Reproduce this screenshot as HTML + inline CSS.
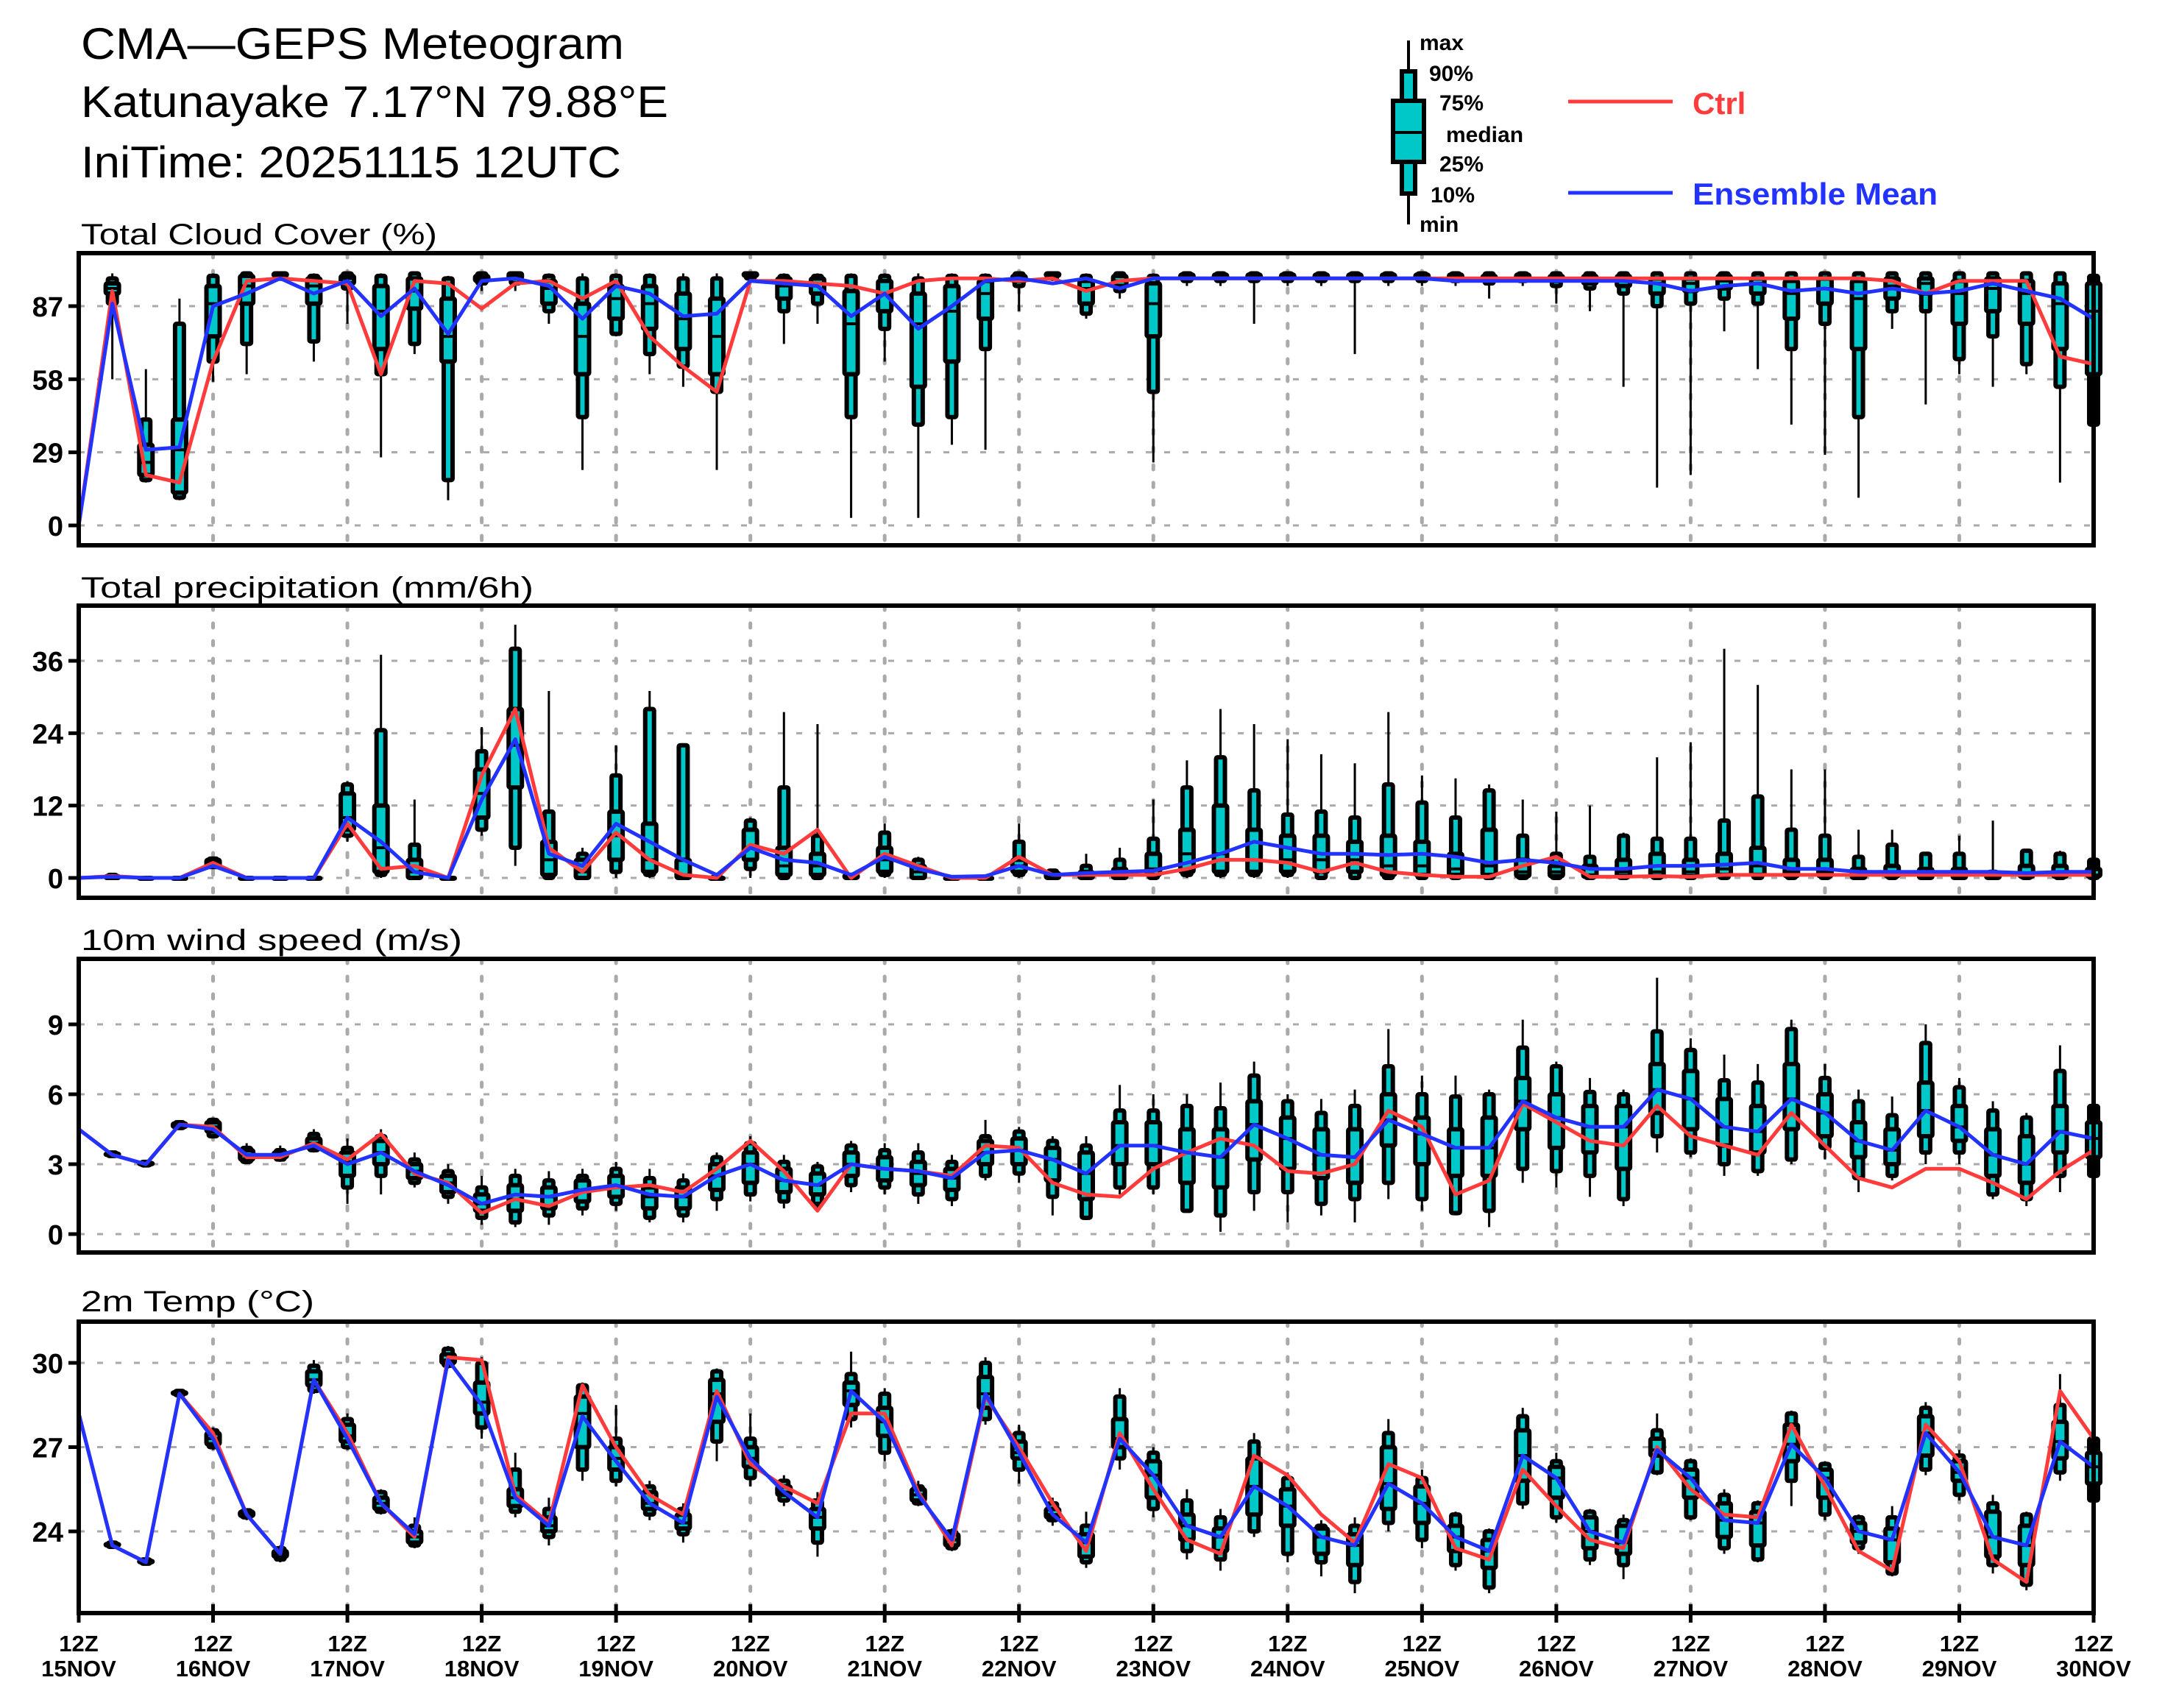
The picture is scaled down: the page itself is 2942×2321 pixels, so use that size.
<!DOCTYPE html>
<html><head><meta charset="utf-8">
<style>
html,body{margin:0;padding:0;background:#fff;}
svg{display:block;}
text{font-family:"Liberation Sans","DejaVu Sans",sans-serif;}
</style></head>
<body>
<svg id="chart" xmlns="http://www.w3.org/2000/svg" width="2942" height="2321" viewBox="0 0 2942 2321">
<rect x="0" y="0" width="2942" height="2321" fill="#fff"/>
<text x="110" y="80" font-size="60" fill="#000" textLength="738" lengthAdjust="spacingAndGlyphs">CMA—GEPS Meteogram</text>
<text x="110" y="159" font-size="60" fill="#000" textLength="798" lengthAdjust="spacingAndGlyphs">Katunayake 7.17°N 79.88°E</text>
<text x="110" y="241" font-size="60" fill="#000" textLength="734" lengthAdjust="spacingAndGlyphs">IniTime: 20251115 12UTC</text>
<g id="legend"></g>
<g id="panels"></g>
</svg>
<script>
// ---- data (step = 6h from 15NOV 12Z) ----
const days = ["15NOV","16NOV","17NOV","18NOV","19NOV","20NOV","21NOV","22NOV","23NOV","24NOV","25NOV","26NOV","27NOV","28NOV","29NOV","30NOV"];
const cloudTicks = [0,29,58,87];
const precipTicks = [0,12,24,36];
const windTicks = [0,3,6,9];
const tempTicks = [24,27,30];

const cloudCtrl = [0,93,20,17,65,97,98,97,96,60,97,96,86,96,97,90,97,75,63,53,97,97,96,95,92,97,98,98,97,98,93,97,98,98,98,98,98,98,98,98,98,98,98,98,98,98,98,98,98,98,98,98,98,98,97,92,97,97,97,67,64];
const cloudMean = [0,88,30,31,87,92,98,92,97,83,94,76,97,98,95,82,95,92,83,84,97,96,95,83,92,78,87,97,98,96,98,94,98,98,98,98,98,98,98,98,98,97,97,97,97,97,97,96,93,95,96,93,94,92,94,92,93,96,93,90,82];
const cloudBox = [null,
[58,88,92,94,96,98,100],[17,18,20,25,32,42,62],[10,11,13,30,42,80,90],[57,65,75,88,95,99,100],[60,72,88,95,99,100,100],
[97,98,99,99,100,100,100],[65,73,88,95,98,99,100],[80,94,96,98,99,100,100],[27,60,70,85,95,99,100],[68,72,86,93,98,100,100],
[10,18,65,75,90,98,99],[93,96,97,98,99,100,100],[93,96,98,99,100,100,100],[80,85,88,94,97,99,100],[22,43,60,75,88,98,100],
[75,76,82,90,95,99,100],[60,68,78,88,95,99,100],[55,63,70,82,92,98,100],[22,53,60,75,90,98,100],[97,98,99,99,100,100,100],
[72,85,90,95,98,99,100],[80,88,92,96,98,99,100],[3,43,60,80,93,99,100],[65,78,85,92,97,99,100],[3,40,55,80,92,98,100],
[32,43,65,85,95,99,100],[30,70,82,92,97,99,100],[85,95,97,98,99,100,100],[97,98,99,99,100,100,100],[82,84,88,94,97,99,100],
[90,93,95,97,99,100,100],[25,53,75,88,96,99,100],[95,97,98,99,99.5,100,100],[95,97,98,99,99.5,100,100],[80,97,98,99,99.5,100,100],
[95,97,98,99,99.5,100,100],[95,97,98,99,99.5,100,100],[68,97,98,99,99.5,100,100],[95,97,98,99,99.5,100,100],[95,97,98,99,99.5,100,100],
[95,97,98,99,99.5,100,100],[90,96,97,98,99,100,100],[95,97,98,99,99.5,100,100],[88,95,97,98,99,100,100],[85,94,96,98,99,100,100],
[55,92,95,97,99,100,100],[15,87,92,96,98,100,100],[20,88,93,96,98,100,100],[77,90,94,97,99,100,100],[62,88,92,96,98,100,100],
[40,70,82,92,97,100,100],[28,80,88,94,98,100,100],[11,43,70,90,97,100,100],[78,85,90,95,98,100,100],[48,85,92,96,98,100,100],
[60,66,80,92,97,100,100],[55,75,85,94,98,100,100],[60,64,80,92,97,100,100],[17,55,70,88,96,100,100],[38,40,60,85,96,99,100]];

const precipCtrl = [0,0.3,0,0,2.5,0,0,0,9,1.5,2,0,17,28,5,1,7.5,3,0.5,0,5.5,4,8,0,4,2,0,0,3.5,0.5,0.5,0.5,0.5,1.5,3,3,2.5,1,2.5,1,0.5,0.2,0.2,2,3.5,0.2,0.2,0.3,0.2,0.5,0.5,0.5,0.5,0.5,0.5,0.5,0.5,0.5,0.5,0.5,0.5];
const precipMean = [0,0.2,0,0,2,0,0,0,10,6,1,0,13,23,4,2,9,6,3,0.5,5,3,2.5,0.5,3.5,1.5,0.2,0.3,2,0.5,0.8,1,1.2,2.5,4,6,5,4,4,3.8,4,3.5,2.5,3,2.5,1.5,1.5,2,2,2.2,2.5,1.5,1.5,1,1,1,1,1,0.8,1,1];
const precipBox = [null,
[0,0,0,0.2,0.3,0.5,0.8],[0,0,0,0,0,0,0.1],[0,0,0,0,0,0,0.1],[1.5,1.8,2,2.5,3,3.2,3.5],[0,0,0,0,0,0,0.1],
[0,0,0,0,0,0,0.1],[0,0,0,0,0,0,0.1],[6,7,8,10,14,15.5,16],[0,0.5,1,5,12,24.5,37],[0,0,0,1,3,5.5,13],
[0,0,0,0,0,0,0.2],[7,8,10,14,18,21,25],[2,5,15,22,28,38,42],[0,0,0.5,3,6,11,31],[0,0,0,1,3,4,5],
[0,1,3,7,11,17,22],[0,0.5,1,3,9,28,31],[0,0,0,0.5,3,22,22],[0,0,0,0,0,0.2,0.5],[0,1.5,3,5,8,9.5,10],
[0,0,0.5,2,5,15,27.5],[0,0,0.5,2,4,7,25.5],[0,0,0,0,0.5,0.5,0.5],[0,0.5,1,3,5,7.5,9],[0,0,0,1,2,3,3.5],
[0,0,0,0,0,0,0.1],[0,0,0,0,0,0,0.1],[0,0.5,1,2,3,6,9],[0,0,0,0.3,0.8,1.2,1.5],[0,0,0,0.3,1,2,4],
[0,0,0,0.5,1.5,3,5],[0,0,0.5,1.5,4,6.5,13],[0,0.5,1,4,8,15,19.5],[0,0.5,1,4,12,20,28],[0,0.5,1,3,8,14.5,25.5],
[0,0.5,1,3,7,10.5,23],[0,0,1,3,7,11,20.5],[0,0,1,3,6,10,19],[0,0,0.5,2,7,15.5,27.5],[0,0,0.5,2,6,12.5,17],
[0,0,0.5,1.5,4,10,16.5],[0,0,0.5,2,8,14.5,15.5],[0,0,0.3,1,3,7,13],[0,0,0.3,1,2,4,11],[0,0,0.2,0.5,2,3.5,12],
[0,0,0.3,1,3,7,7.5],[0,0,0.3,1,4,6.5,20],[0,0,0.3,1,3,6.5,22.5],[0,0,0.5,1.5,4,9.5,38],[0,0,0.5,2,5,13.5,32],
[0,0,0.3,1,3,8,18],[0,0,0.3,1,3,7,18],[0,0,0,0.5,1.5,3.5,8],[0,0,0.3,1,2,5.5,8],[0,0,0,0.5,1.5,4,4],
[0,0,0,0.5,1.5,4,7],[0,0,0,0.3,0.8,1,9.5],[0,0,0.2,0.5,2,4.5,4.5],[0,0,0.2,0.5,2,4,4.5],[0,0,0.3,0.5,1.5,3,3.5]];

const windCtrl = [4.5,3.4,3.0,4.7,4.6,3.3,3.3,3.9,3.2,4.3,2.6,2.2,0.9,1.5,1.2,1.8,2.0,2.1,1.8,2.8,4.0,2.7,1.0,3.0,2.8,2.7,2.5,3.8,3.7,2.2,1.7,1.6,2.8,3.5,4.1,3.8,2.7,2.6,3.0,5.3,4.6,1.7,2.3,5.6,4.8,4.0,3.8,5.5,4.2,3.8,3.4,5.2,3.8,2.4,2.0,2.8,2.8,2.2,1.5,2.7,3.6];
const windMean = [4.5,3.4,3.0,4.7,4.5,3.4,3.4,3.8,3.0,3.5,2.7,2.1,1.3,1.7,1.6,1.9,2.1,1.7,1.6,2.5,3.0,2.3,2.1,3.0,2.8,2.7,2.4,3.5,3.6,3.2,2.6,3.8,3.8,3.5,3.3,4.7,4.1,3.4,3.3,4.9,4.3,3.7,3.7,5.7,5.0,4.6,4.6,6.2,5.8,4.6,4.4,5.8,5.2,4.0,3.6,5.3,4.6,3.4,3.0,4.4,4.1];
const windBox = [null,
[3.3,3.35,3.4,3.4,3.45,3.5,3.5],[2.9,2.95,3,3,3.05,3.1,3.1],[4.5,4.55,4.6,4.7,4.75,4.8,4.8],[4.1,4.2,4.4,4.6,4.8,4.9,5.0],[3.0,3.1,3.2,3.4,3.6,3.7,3.9],
[3.1,3.2,3.3,3.4,3.5,3.6,3.8],[3.5,3.6,3.7,3.9,4.1,4.3,4.5],[1.3,2.0,2.5,3.1,3.5,3.7,4.1],[1.7,2.5,3.0,3.5,4.0,4.2,4.5],[2.0,2.2,2.4,2.7,3.0,3.2,3.5],
[1.3,1.6,1.8,2.2,2.5,2.7,3.0],[0.4,0.7,1.0,1.3,1.7,2.0,2.5],[0.3,0.5,1.0,1.5,2.1,2.5,2.8],[0.4,0.8,1.1,1.6,2.0,2.3,2.7],[0.8,1.1,1.4,1.9,2.3,2.5,2.8],
[1.0,1.3,1.6,2.0,2.5,2.8,3.1],[0.5,0.7,1.1,1.6,2.0,2.4,2.8],[0.5,0.8,1.1,1.6,2.0,2.3,2.6],[1.0,1.5,1.9,2.5,3.0,3.3,3.5],[1.4,1.7,2.2,3.0,3.5,3.9,4.2],
[1.1,1.4,1.8,2.3,2.8,3.1,3.4],[1.0,1.3,1.7,2.1,2.6,2.9,3.1],[1.8,2.1,2.5,3.0,3.5,3.8,4.0],[1.7,2.0,2.3,2.8,3.3,3.6,3.9],[1.3,1.7,2.1,2.6,3.1,3.5,3.9],
[1.2,1.5,1.9,2.4,2.8,3.1,3.4],[2.3,2.5,3.0,3.5,4.0,4.2,4.9],[2.2,2.6,3.0,3.6,4.1,4.4,4.6],[0.8,1.6,2.3,3.2,3.7,4.0,4.2],[0.6,0.7,1.5,2.6,3.5,3.8,4.2],
[1.7,2.0,3.0,3.8,4.8,5.3,6.4],[1.7,2.0,3.0,3.8,4.8,5.3,6.0],[1.0,1.0,2.2,3.5,4.5,5.5,6.0],[0.1,0.8,2.0,3.3,4.5,5.4,6.5],[1.0,1.8,3.2,4.7,5.7,6.8,7.4],
[0.5,1.8,2.8,4.1,5.0,5.7,6.0],[0.8,1.3,2.4,3.4,4.5,5.2,5.8],[0.5,1.5,2.2,3.3,4.5,5.5,6.2],[1.5,2.2,3.8,4.9,6.0,7.2,8.8],[1.0,1.5,3.0,4.3,5.0,6.0,6.8],
[0.8,0.9,2.5,3.7,4.5,5.9,6.8],[0.3,1.0,2.5,3.7,5.0,6.0,6.2],[2.2,2.8,4.5,5.7,6.7,8.0,9.2],[2.0,2.7,3.7,5.0,6.0,7.2,7.4],[1.6,2.5,3.5,4.6,5.5,6.1,6.7],
[1.2,1.5,2.8,4.6,5.5,6.0,6.2],[3.5,4.2,5.2,6.2,7.3,8.7,11],[3.3,3.5,4.5,5.8,7.0,7.9,8.4],[2.5,3.0,3.8,4.6,5.8,6.6,7.7],[2.5,2.7,3.5,4.4,5.5,6.5,7.3],
[3.0,3.2,4.5,5.8,7.3,8.8,9.2],[3.2,3.7,4.2,5.2,6.0,6.7,7.3],[1.8,2.4,3.3,4.0,4.8,5.7,6.2],[2.3,2.5,3.0,3.6,4.5,5.1,5.9],[3.0,3.5,4.2,5.3,6.5,8.2,9.0],
[3.0,3.5,4.0,4.6,5.5,6.3,6.7],[1.5,1.7,2.5,3.4,4.5,5.3,5.7],[1.2,1.5,2.2,3.0,4.2,5.0,5.2],[1.8,2.5,3.5,4.4,5.5,7.0,8.1],[2.3,2.5,3.3,4.1,4.8,5.5,5.7]];

const tempCtrl = [28.2,23.5,22.9,28.9,27.5,24.6,23.2,29.4,27.5,25.0,23.8,30.2,30.1,25.3,24.3,29.2,27.0,25.3,24.6,29.0,26.4,25.6,25.0,28.2,28.2,25.4,23.5,28.8,27.0,25.0,23.3,27.5,25.5,23.7,23.2,26.7,26.0,24.6,23.6,26.4,25.9,23.4,23.0,26.2,24.9,23.7,23.4,27.0,25.5,24.6,24.5,27.8,25.6,23.3,22.6,27.8,26.5,23.0,22.2,29.0,27.3];
const tempMean = [28.2,23.5,22.9,28.9,27.3,24.6,23.2,29.4,27.3,25.0,23.9,30.1,28.5,25.2,24.2,28.1,26.5,25.0,24.3,28.8,26.6,25.4,24.5,29.0,27.9,25.3,23.7,28.9,26.8,24.6,23.6,27.3,26.0,24.2,23.8,25.6,24.9,23.8,23.5,25.7,25.0,23.8,23.3,26.7,25.9,24.0,23.6,26.9,25.9,24.4,24.3,27.1,25.9,24.0,23.7,27.5,26.1,23.8,23.5,27.2,26.3];
const tempBox = [null,
[23.4,23.45,23.5,23.5,23.55,23.6,23.6],[22.8,22.85,22.9,22.9,22.95,23,23],[28.8,28.85,28.9,28.9,28.95,29,29],[26.9,27,27.1,27.3,27.5,27.6,27.7],[24.4,24.5,24.55,24.6,24.7,24.75,24.8],
[22.9,23,23.1,23.2,23.3,23.4,23.5],[28.9,29,29.2,29.4,29.7,29.9,30.1],[26.9,27,27.2,27.4,27.8,28.0,28.2],[24.6,24.7,24.8,25.0,25.2,25.4,25.5],[23.4,23.5,23.6,23.8,24.0,24.2,24.5],
[29.8,29.9,30.0,30.1,30.3,30.5,30.6],[27.3,27.7,28.2,28.6,29.3,30.0,30.2],[24.5,24.7,24.9,25.2,25.5,26.2,26.8],[23.5,23.8,24.0,24.2,24.5,24.8,25.2],[25.8,26.2,27.0,28.2,28.8,29.2,29.3],
[25.6,25.8,26.2,26.6,27.0,27.3,28.5],[24.4,24.6,24.8,25.0,25.4,25.6,25.8],[23.6,23.9,24.1,24.3,24.6,24.8,25.0],[26.5,27.2,27.9,28.9,29.4,29.7,29.8],[25.6,25.9,26.3,26.6,27.0,27.3,28.2],
[24.9,25.1,25.3,25.4,25.6,25.8,26.0],[23.1,23.6,24.1,24.5,24.8,25.1,25.4],[27.7,28.0,28.5,29.0,29.3,29.6,30.4],[26.5,26.8,27.4,27.9,28.4,28.9,29.1],[24.9,25.0,25.1,25.3,25.5,25.6,25.8],
[23.3,23.4,23.5,23.7,23.9,24.0,24.1],[27.8,28.0,28.4,28.9,29.5,30.0,30.2],[25.7,26.2,26.6,26.8,27.2,27.5,27.8],[24.2,24.4,24.5,24.6,24.8,25.0,25.2],[22.7,22.9,23.1,23.6,23.9,24.2,24.7],
[26.2,26.6,27.0,27.3,28.0,28.8,29.1],[24.5,24.8,25.2,26.0,26.5,26.8,27.0],[23.0,23.3,23.7,24.2,24.6,25.1,25.5],[22.6,23.0,23.3,23.8,24.1,24.5,24.8],[23.8,24.0,24.6,25.6,26.6,27.2,27.5],
[22.9,23.2,24.2,24.9,25.5,25.9,26.1],[22.4,22.9,23.2,23.8,24.1,24.2,24.4],[21.8,22.2,22.8,23.5,23.9,24.2,24.5],[24.0,24.3,24.8,25.7,27.0,27.5,28.0],[23.4,23.7,24.3,25.0,25.6,25.9,26.2],
[22.6,22.8,23.3,23.8,24.2,24.6,24.7],[21.8,22.0,22.7,23.3,23.7,24.0,24.1],[24.8,25.0,25.8,26.7,27.6,28.1,28.4],[24.3,24.5,25.2,25.9,26.3,26.5,26.8],[22.8,23.0,23.4,24.0,24.5,24.7,24.8],
[22.3,22.8,23.2,23.6,24.2,24.4,24.6],[26.0,26.1,26.7,26.9,27.3,27.6,28.2],[24.4,24.5,25.2,25.9,26.2,26.5,26.6],[23.2,23.4,23.8,24.4,25.0,25.3,25.5],[22.9,23.0,23.5,24.3,24.7,25.0,25.1],
[24.9,25.8,26.5,27.1,27.8,28.2,28.3],[24.4,24.6,25.2,25.9,26.2,26.4,26.5],[23.2,23.4,23.6,24.0,24.3,24.5,24.6],[22.4,22.5,22.9,23.7,24.1,24.5,24.9],[26.0,26.2,26.7,27.5,28.1,28.4,28.6],
[25.1,25.3,25.8,26.1,26.5,26.7,26.9],[22.5,22.8,23.1,23.8,24.7,25.0,25.3],[21.9,22.1,22.8,23.5,24.2,24.6,24.7],[25.8,26.1,26.6,27.2,27.9,28.5,29.6],[25.0,25.1,25.7,26.3,26.8,27.3,27.5]];

// ---- layout ----
const NS = "http://www.w3.org/2000/svg";
const X0 = 107, X1 = 2845, NSTEP = 60;
function xScale(i){ return X0 + (X1 - X0) * i / NSTEP; }
function mk(tag, attrs, parent){
  const e = document.createElementNS(NS, tag);
  for (const k in attrs) e.setAttribute(k, attrs[k]);
  parent.appendChild(e);
  return e;
}
const RED = "#ff3b3b", BLUE = "#2233ff", CYAN = "#00c8c8";

const panels = [
  {key:"cloud", title:"Total Cloud Cover (%)", tw:484, top:344, bottom:741, titleY:332, v0:0, y0:714, v1:87, y1:416, ticks:cloudTicks, ctrl:cloudCtrl, mean:cloudMean, box:cloudBox},
  {key:"precip", title:"Total precipitation (mm/6h)", tw:615, top:823, bottom:1220, titleY:812, v0:0, y0:1193, v1:36, y1:898, ticks:precipTicks, ctrl:precipCtrl, mean:precipMean, box:precipBox},
  {key:"wind", title:"10m wind speed (m/s)", tw:518, top:1303, bottom:1702, titleY:1291, v0:0, y0:1677, v1:9, y1:1392, ticks:windTicks, ctrl:windCtrl, mean:windMean, box:windBox},
  {key:"temp", title:"2m Temp (°C)", tw:317, top:1796, bottom:2192, titleY:1782, v0:24, y0:2081, v1:30, y1:1852, ticks:tempTicks, ctrl:tempCtrl, mean:tempMean, box:tempBox}
];

const root = document.getElementById("panels");
panels.forEach(function(p){
  const yScale = function(v){ return p.y0 + (v - p.v0) * (p.y1 - p.y0) / (p.v1 - p.v0); };
  const g = mk("g", {}, root);
  
  

  const t = mk("text", {x:110, y:p.titleY, "font-size":40, fill:"#000", textLength:p.tw, lengthAdjust:"spacingAndGlyphs"}, g);
  t.textContent = p.title;
  
  

  p.ticks.forEach(function(v){
    const y = yScale(v);
    const gl = mk("line", {x1:X0, x2:X1, y1:y, y2:y, stroke:"#aaa", "stroke-width":3, "stroke-dasharray":"8 17"}, g);
    
    
    const tk = mk("line", {x1:X0-14, x2:X0, y1:y, y2:y, stroke:"#000", "stroke-width":5}, g);
    
    
    const tl = mk("text", {x:86, y:y+14, "font-size":38, "font-weight":"bold", "text-anchor":"end", fill:"#000"}, g);
    tl.textContent = String(v);
    
    
  });
  for (let d = 1; d < days.length - 1; d++){
    const x = xScale(d*4);
    const vl = mk("line", {x1:x, x2:x, y1:p.top, y2:p.bottom, stroke:"#aaa", "stroke-width":5, "stroke-dasharray":"6 18", "stroke-linecap":"round"}, g);
    
    
  }

  p.box.forEach(function(b, i){
    if (!b) return;
    const x = xScale(i);
    const bg = mk("g", {}, g);
    
    
    mk("line", {x1:x, x2:x, y1:yScale(b[0]), y2:yScale(b[6]), stroke:"#000", "stroke-width":3}, bg);
    const y10 = yScale(b[1]), y90 = yScale(b[5]);
    mk("rect", {x:x-6, y:Math.min(y10,y90), width:12, height:Math.max(Math.abs(y10-y90),1), fill:CYAN, stroke:"#000", "stroke-width":6, rx:2}, bg);
    const y25 = yScale(b[2]), y75 = yScale(b[4]);
    mk("rect", {x:x-9, y:Math.min(y25,y75), width:18, height:Math.max(Math.abs(y25-y75),1), fill:CYAN, stroke:"#000", "stroke-width":6, rx:2}, bg);
    const ym = yScale(b[3]);
    mk("line", {x1:x-9, x2:x+9, y1:ym, y2:ym, stroke:"#000", "stroke-width":4}, bg);
  });

  function pts(arr){ return arr.map(function(v,i){ return xScale(i).toFixed(1) + "," + yScale(v).toFixed(1); }).join(" "); }
  const cl = mk("polyline", {points:pts(p.ctrl), fill:"none", stroke:RED, "stroke-width":5, "stroke-linejoin":"round"}, g);
  
  
  const ml = mk("polyline", {points:pts(p.mean), fill:"none", stroke:BLUE, "stroke-width":5, "stroke-linejoin":"round"}, g);
  
  

  const fr = mk("rect", {x:X0, y:p.top, width:X1-X0, height:p.bottom-p.top, fill:"none", stroke:"#000", "stroke-width":6}, g);
  
  
});

const xg = mk("g", {}, root);


days.forEach(function(d, k){
  const x = xScale(k*4);
  const tk = mk("line", {x1:x, x2:x, y1:2180, y2:2205, stroke:"#000", "stroke-width":5}, xg);
  
  
  const t1 = mk("text", {x:x, y:2244, "font-size":31, "font-weight":"bold", "text-anchor":"middle", fill:"#000"}, xg);
  t1.textContent = "12Z";
  
  
  const t2 = mk("text", {x:x, y:2278, "font-size":31, "font-weight":"bold", "text-anchor":"middle", fill:"#000"}, xg);
  t2.textContent = d;
  
  
});

const lg = document.getElementById("legend");
mk("line", {x1:1914, x2:1914, y1:55, y2:305, stroke:"#000", "stroke-width":4}, lg);
mk("rect", {x:1905, y:97, width:18, height:166, fill:CYAN, stroke:"#000", "stroke-width":6}, lg);
mk("rect", {x:1893, y:137, width:42, height:83, fill:CYAN, stroke:"#000", "stroke-width":6}, lg);
mk("line", {x1:1893, x2:1935, y1:180, y2:180, stroke:"#000", "stroke-width":4}, lg);
[["max",1929,68],["90%",1942,110],["75%",1956,150],["median",1965,193],["25%",1956,233],["10%",1944,275],["min",1929,315]].forEach(function(a){
  const t = mk("text", {x:a[1], y:a[2], "font-size":30, "font-weight":"bold", fill:"#000"}, lg);
  t.textContent = a[0];
  
  
});
const l1 = mk("line", {x1:2131, x2:2273, y1:138, y2:138, stroke:RED, "stroke-width":5}, lg);


const lt1 = mk("text", {x:2300, y:155, "font-size":42, "font-weight":"bold", fill:RED}, lg);
lt1.textContent = "Ctrl";


const l2 = mk("line", {x1:2131, x2:2273, y1:262, y2:262, stroke:BLUE, "stroke-width":5}, lg);


const lt2 = mk("text", {x:2300, y:278, "font-size":42, "font-weight":"bold", fill:BLUE, textLength:333, lengthAdjust:"spacingAndGlyphs"}, lg);
lt2.textContent = "Ensemble Mean";


</script>
</body></html>
